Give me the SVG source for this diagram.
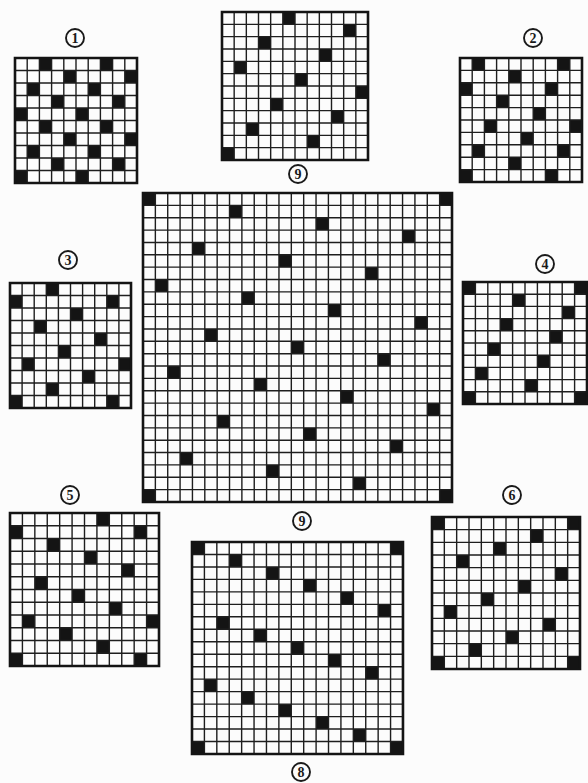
<svg xmlns="http://www.w3.org/2000/svg" xmlns:xlink="http://www.w3.org/1999/xlink" width="588" height="783" viewBox="0 0 588 783">
<style>
.ln{fill:none;stroke:#1e1e1e;stroke-width:1.4}
.bd{fill:none;stroke:#141414;stroke-width:2.6;vector-effect:non-scaling-stroke}
.blk{fill:#141414}
.lc{fill:none;stroke:#1a1a1a;stroke-width:1.9}
.lt{font-family:"Liberation Serif",serif;font-weight:bold;font-size:14px;fill:#1a1a1a;text-anchor:middle;dominant-baseline:central}
</style>
<defs>
<rect id="c" width="1" height="1"/>
<path id="g10" vector-effect="non-scaling-stroke" d="M1 0V10M2 0V10M3 0V10M4 0V10M5 0V10M6 0V10M7 0V10M8 0V10M9 0V10M0 1H10M0 2H10M0 3H10M0 4H10M0 5H10M0 6H10M0 7H10M0 8H10M0 9H10"/>
<path id="g12" vector-effect="non-scaling-stroke" d="M1 0V12M2 0V12M3 0V12M4 0V12M5 0V12M6 0V12M7 0V12M8 0V12M9 0V12M10 0V12M11 0V12M0 1H12M0 2H12M0 3H12M0 4H12M0 5H12M0 6H12M0 7H12M0 8H12M0 9H12M0 10H12M0 11H12"/>
<path id="g17" vector-effect="non-scaling-stroke" d="M1 0V17M2 0V17M3 0V17M4 0V17M5 0V17M6 0V17M7 0V17M8 0V17M9 0V17M10 0V17M11 0V17M12 0V17M13 0V17M14 0V17M15 0V17M16 0V17M0 1H17M0 2H17M0 3H17M0 4H17M0 5H17M0 6H17M0 7H17M0 8H17M0 9H17M0 10H17M0 11H17M0 12H17M0 13H17M0 14H17M0 15H17M0 16H17"/>
<path id="g25" vector-effect="non-scaling-stroke" d="M1 0V25M2 0V25M3 0V25M4 0V25M5 0V25M6 0V25M7 0V25M8 0V25M9 0V25M10 0V25M11 0V25M12 0V25M13 0V25M14 0V25M15 0V25M16 0V25M17 0V25M18 0V25M19 0V25M20 0V25M21 0V25M22 0V25M23 0V25M24 0V25M0 1H25M0 2H25M0 3H25M0 4H25M0 5H25M0 6H25M0 7H25M0 8H25M0 9H25M0 10H25M0 11H25M0 12H25M0 13H25M0 14H25M0 15H25M0 16H25M0 17H25M0 18H25M0 19H25M0 20H25M0 21H25M0 22H25M0 23H25M0 24H25"/>
</defs>
<rect width="588" height="783" fill="#fcfcfc"/>

<g id="board-1">
<g transform="translate(15,58) scale(12.2,12.5)">
<g class="blk"><use href="#c" x="2" y="0"/><use href="#c" x="7" y="0"/><use href="#c" x="4" y="1"/><use href="#c" x="9" y="1"/><use href="#c" x="1" y="2"/><use href="#c" x="6" y="2"/><use href="#c" x="3" y="3"/><use href="#c" x="8" y="3"/><use href="#c" x="0" y="4"/><use href="#c" x="5" y="4"/><use href="#c" x="2" y="5"/><use href="#c" x="7" y="5"/><use href="#c" x="4" y="6"/><use href="#c" x="9" y="6"/><use href="#c" x="1" y="7"/><use href="#c" x="6" y="7"/><use href="#c" x="3" y="8"/><use href="#c" x="8" y="8"/><use href="#c" x="0" y="9"/><use href="#c" x="5" y="9"/></g>
<use href="#g10" class="ln"/><rect class="bd" width="10" height="10"/>
</g>
<circle class="lc" cx="75" cy="38" r="9"/><text class="lt" x="75" y="38.5">1</text>
</g>

<g id="board-9-top">
<g transform="translate(222,12) scale(12.167,12.333)">
<g class="blk"><use href="#c" x="5" y="0"/><use href="#c" x="10" y="1"/><use href="#c" x="3" y="2"/><use href="#c" x="8" y="3"/><use href="#c" x="1" y="4"/><use href="#c" x="6" y="5"/><use href="#c" x="11" y="6"/><use href="#c" x="4" y="7"/><use href="#c" x="9" y="8"/><use href="#c" x="2" y="9"/><use href="#c" x="7" y="10"/><use href="#c" x="0" y="11"/></g>
<use href="#g12" class="ln"/><rect class="bd" width="12" height="12"/>
</g>
<circle class="lc" cx="298" cy="174" r="9"/><text class="lt" x="298" y="174.5">9</text>
</g>

<g id="board-2">
<g transform="translate(460,58) scale(12.2,12.4)">
<g class="blk"><use href="#c" x="1" y="0"/><use href="#c" x="8" y="0"/><use href="#c" x="4" y="1"/><use href="#c" x="0" y="2"/><use href="#c" x="7" y="2"/><use href="#c" x="3" y="3"/><use href="#c" x="6" y="4"/><use href="#c" x="2" y="5"/><use href="#c" x="9" y="5"/><use href="#c" x="5" y="6"/><use href="#c" x="1" y="7"/><use href="#c" x="8" y="7"/><use href="#c" x="4" y="8"/><use href="#c" x="0" y="9"/><use href="#c" x="7" y="9"/></g>
<use href="#g10" class="ln"/><rect class="bd" width="10" height="10"/>
</g>
<circle class="lc" cx="533" cy="38" r="9"/><text class="lt" x="533" y="38.5">2</text>
</g>

<g id="board-3">
<g transform="translate(10,283) scale(12.1,12.5)">
<g class="blk"><use href="#c" x="3" y="0"/><use href="#c" x="0" y="1"/><use href="#c" x="8" y="1"/><use href="#c" x="5" y="2"/><use href="#c" x="2" y="3"/><use href="#c" x="7" y="4"/><use href="#c" x="4" y="5"/><use href="#c" x="1" y="6"/><use href="#c" x="9" y="6"/><use href="#c" x="6" y="7"/><use href="#c" x="3" y="8"/><use href="#c" x="0" y="9"/><use href="#c" x="8" y="9"/></g>
<use href="#g10" class="ln"/><rect class="bd" width="10" height="10"/>
</g>
<circle class="lc" cx="68" cy="260" r="9"/><text class="lt" x="68" y="260.5">3</text>
</g>

<g id="board-4">
<g transform="translate(463,282) scale(12.4,12.2)">
<g class="blk"><use href="#c" x="0" y="0"/><use href="#c" x="9" y="0"/><use href="#c" x="4" y="1"/><use href="#c" x="8" y="2"/><use href="#c" x="3" y="3"/><use href="#c" x="7" y="4"/><use href="#c" x="2" y="5"/><use href="#c" x="6" y="6"/><use href="#c" x="1" y="7"/><use href="#c" x="5" y="8"/><use href="#c" x="0" y="9"/><use href="#c" x="9" y="9"/></g>
<use href="#g10" class="ln"/><rect class="bd" width="10" height="10"/>
</g>
<circle class="lc" cx="545" cy="264" r="9"/><text class="lt" x="545" y="264.5">4</text>
</g>

<g id="board-9">
<g transform="translate(143,193) scale(12.36,12.36)">
<g class="blk"><use href="#c" x="0" y="0"/><use href="#c" x="24" y="0"/><use href="#c" x="7" y="1"/><use href="#c" x="14" y="2"/><use href="#c" x="21" y="3"/><use href="#c" x="4" y="4"/><use href="#c" x="11" y="5"/><use href="#c" x="18" y="6"/><use href="#c" x="1" y="7"/><use href="#c" x="8" y="8"/><use href="#c" x="15" y="9"/><use href="#c" x="22" y="10"/><use href="#c" x="5" y="11"/><use href="#c" x="12" y="12"/><use href="#c" x="19" y="13"/><use href="#c" x="2" y="14"/><use href="#c" x="9" y="15"/><use href="#c" x="16" y="16"/><use href="#c" x="23" y="17"/><use href="#c" x="6" y="18"/><use href="#c" x="13" y="19"/><use href="#c" x="20" y="20"/><use href="#c" x="3" y="21"/><use href="#c" x="10" y="22"/><use href="#c" x="17" y="23"/><use href="#c" x="0" y="24"/><use href="#c" x="24" y="24"/></g>
<use href="#g25" class="ln"/><rect class="bd" width="25" height="25"/>
</g>
<circle class="lc" cx="302" cy="521" r="9"/><text class="lt" x="302" y="521.5">9</text>
</g>

<g id="board-5">
<g transform="translate(10,513) scale(12.417,12.75)">
<g class="blk"><use href="#c" x="7" y="0"/><use href="#c" x="0" y="1"/><use href="#c" x="10" y="1"/><use href="#c" x="3" y="2"/><use href="#c" x="6" y="3"/><use href="#c" x="9" y="4"/><use href="#c" x="2" y="5"/><use href="#c" x="5" y="6"/><use href="#c" x="8" y="7"/><use href="#c" x="1" y="8"/><use href="#c" x="11" y="8"/><use href="#c" x="4" y="9"/><use href="#c" x="7" y="10"/><use href="#c" x="0" y="11"/><use href="#c" x="10" y="11"/></g>
<use href="#g12" class="ln"/><rect class="bd" width="12" height="12"/>
</g>
<circle class="lc" cx="70" cy="495" r="9"/><text class="lt" x="70" y="495.5">5</text>
</g>

<g id="board-6">
<g transform="translate(432,517) scale(12.333,12.667)">
<g class="blk"><use href="#c" x="0" y="0"/><use href="#c" x="11" y="0"/><use href="#c" x="8" y="1"/><use href="#c" x="5" y="2"/><use href="#c" x="2" y="3"/><use href="#c" x="10" y="4"/><use href="#c" x="7" y="5"/><use href="#c" x="4" y="6"/><use href="#c" x="1" y="7"/><use href="#c" x="9" y="8"/><use href="#c" x="6" y="9"/><use href="#c" x="3" y="10"/><use href="#c" x="0" y="11"/><use href="#c" x="11" y="11"/></g>
<use href="#g12" class="ln"/><rect class="bd" width="12" height="12"/>
</g>
<circle class="lc" cx="512" cy="495" r="9"/><text class="lt" x="512" y="495.5">6</text>
</g>

<g id="board-8">
<g transform="translate(192,542) scale(12.41,12.47)">
<g class="blk"><use href="#c" x="0" y="0"/><use href="#c" x="16" y="0"/><use href="#c" x="3" y="1"/><use href="#c" x="6" y="2"/><use href="#c" x="9" y="3"/><use href="#c" x="12" y="4"/><use href="#c" x="15" y="5"/><use href="#c" x="2" y="6"/><use href="#c" x="5" y="7"/><use href="#c" x="8" y="8"/><use href="#c" x="11" y="9"/><use href="#c" x="14" y="10"/><use href="#c" x="1" y="11"/><use href="#c" x="4" y="12"/><use href="#c" x="7" y="13"/><use href="#c" x="10" y="14"/><use href="#c" x="13" y="15"/><use href="#c" x="0" y="16"/><use href="#c" x="16" y="16"/></g>
<use href="#g17" class="ln"/><rect class="bd" width="17" height="17"/>
</g>
<circle class="lc" cx="301" cy="772" r="9"/><text class="lt" x="301" y="772.5">8</text>
</g>

<g id="connectors"/>
</svg>
